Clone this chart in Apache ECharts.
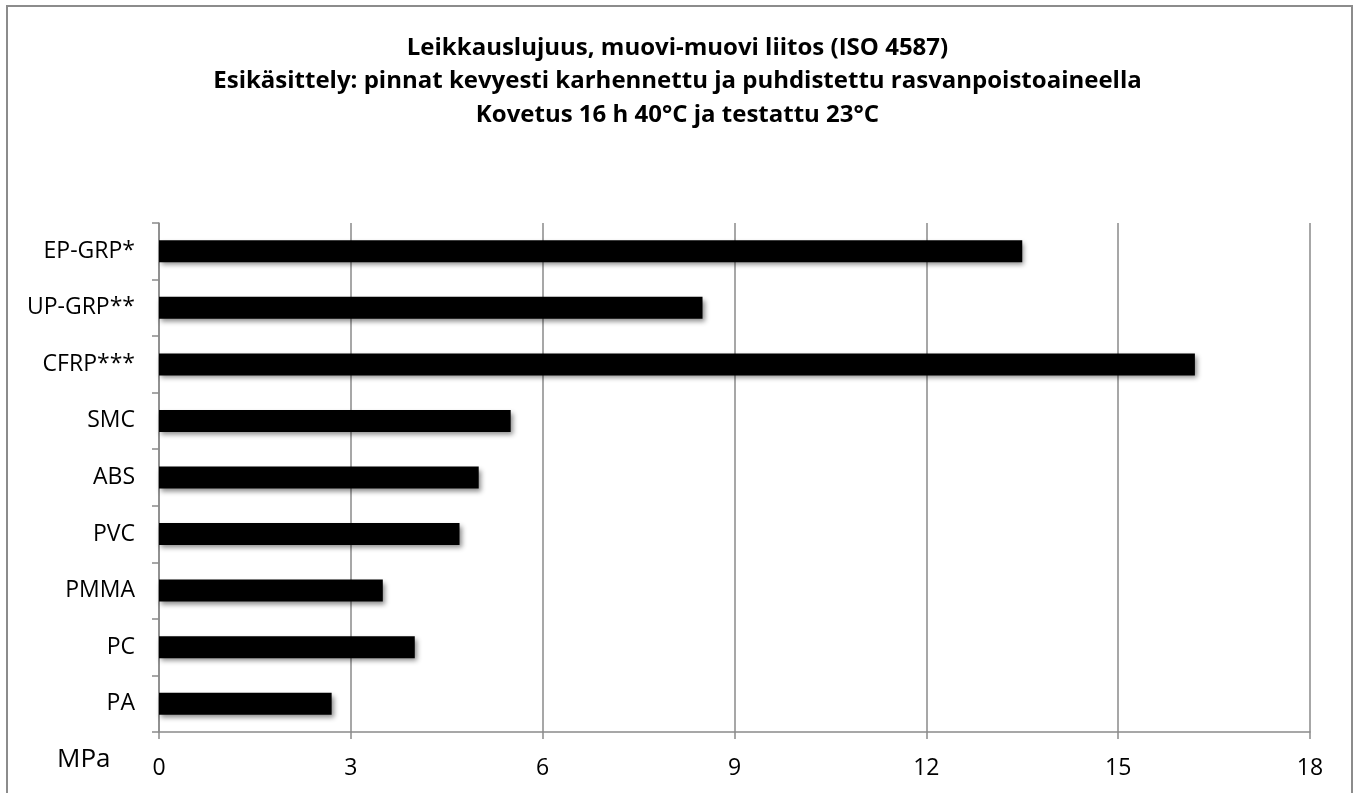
<!DOCTYPE html>
<html>
<head>
<meta charset="utf-8">
<script src="https://cdn.jsdelivr.net/npm/echarts@6/dist/echarts.min.js"></script>
<style>
  html, body { margin: 0; padding: 0; background: #fff; }
  #chart { width: 1355px; height: 793px; }
</style>
</head>
<body>
<div id="chart"></div>
<script>
// Materials, listed bottom to top along the category axis
const materials = ['PA', 'PC', 'PMMA', 'PVC', 'ABS', 'SMC', 'CFRP***', 'UP-GRP**', 'EP-GRP*'];
// Shear strength in MPa
const shearStrength = [2.7, 4.0, 3.5, 4.7, 5.0, 5.5, 16.2, 8.5, 13.5];
const titleLines = [
  'Leikkauslujuus, muovi-muovi liitos (ISO 4587)',
  'Esikäsittely: pinnat kevyesti karhennettu ja puhdistettu rasvanpoistoaineella',
  'Kovetus 16 h 40°C ja testattu 23°C'
];
const unitLabel = 'MPa';

const font = '"Open Sans", "Liberation Sans", sans-serif';
const chart = echarts.init(document.getElementById('chart'), null, { renderer: 'canvas' });

chart.setOption({
  backgroundColor: '#fff',
  animation: false,
  title: {
    text: titleLines.join('\n'),
    left: 'center',
    top: 26,
    textStyle: {
      fontFamily: font,
      fontSize: 24,
      fontWeight: 'bold',
      color: '#000',
      lineHeight: 33.5
    }
  },
  grid: { left: 159, right: 45, top: 223, bottom: 61, containLabel: false },
  xAxis: {
    type: 'value',
    min: 0,
    max: 18,
    interval: 3,
    axisLine: { show: true, lineStyle: { color: '#8a8a8a', width: 1.5 } },
    axisTick: { show: true, length: 7, lineStyle: { color: '#8a8a8a', width: 1.5 } },
    axisLabel: { margin: 25, fontFamily: font, fontSize: 23, color: '#000' },
    splitLine: { show: true, lineStyle: { color: '#8a8a8a', width: 1.5 } }
  },
  yAxis: {
    type: 'category',
    data: materials,
    axisLine: { show: true, lineStyle: { color: '#8a8a8a', width: 1.5 } },
    axisTick: { show: true, length: 7, lineStyle: { color: '#8a8a8a', width: 1.5 } },
    axisLabel: { margin: 24, fontFamily: font, fontSize: 23, color: '#000' },
    splitLine: { show: false }
  },
  series: [{
    type: 'bar',
    data: shearStrength,
    barWidth: 22,
    itemStyle: {
      color: '#000',
      shadowColor: 'rgba(0,0,0,0.45)',
      shadowBlur: 5,
      shadowOffsetX: 2,
      shadowOffsetY: 3
    }
  }],
  graphic: [
    {
      type: 'rect',
      shape: { x: 7, y: 6, width: 1345, height: 800 },
      style: { fill: 'none', stroke: '#8c8c8c', lineWidth: 2 },
      silent: true
    },
    {
      type: 'text',
      left: 57,
      top: 747,
      style: { text: unitLabel, fontFamily: font, fontSize: 26, fill: '#000' }
    }
  ]
});
</script>
</body>
</html>
